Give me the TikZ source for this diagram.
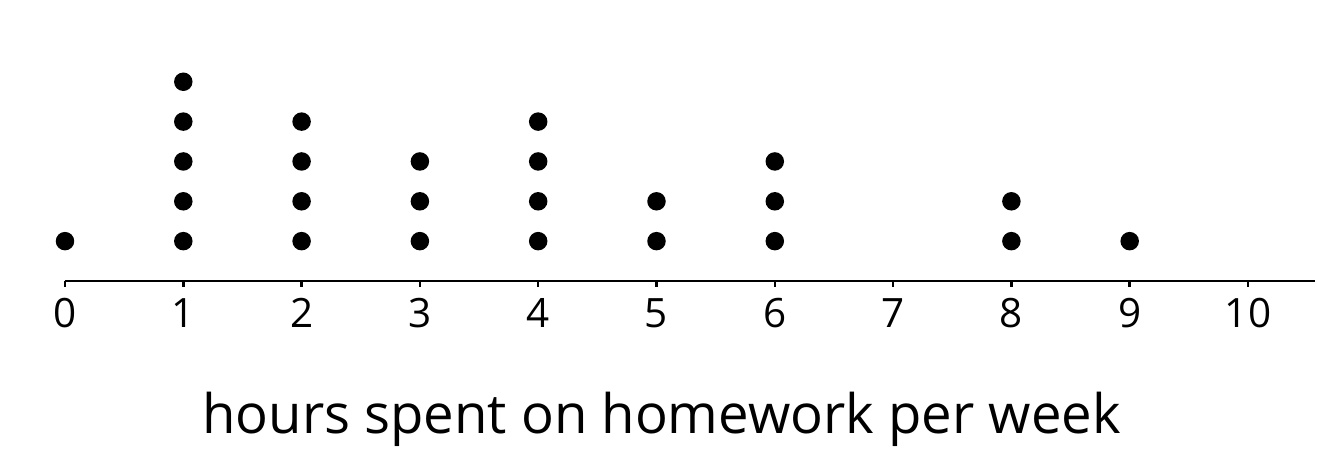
\documentclass[tikz,border=0pt]{standalone}
\usepackage{fontspec}
\setmainfont{Open Sans}
\begin{document}
\begin{tikzpicture}[x=2.366cm,y=0.797cm]
	\tikzset{dot/.style={fill,circle,inner sep=0pt,minimum size=0.37cm}}
	\tikzset{tick label/.style={anchor=base,font=\fontsize{23}{28}\selectfont}}
	\useasboundingbox (-1.3cm,-3.76cm) rectangle (25.04cm,5.62cm);
	\coordinate (start)	at (0,0);
	\coordinate (end)	at (10.566,0);
	\draw [line width=0.06cm] (start) -- (end);
	\foreach \v in {0,...,10}{
		\coordinate (t\v)	at (\v,0);
		\draw [line width=0.05cm] (t\v) -- ++(0,-0.11cm);
		\node [tick label] (l\v)	at ([yshift=-0.92cm]t\v)	{\v};
	}
	\foreach \v/\n in {0/1,1/5,2/4,3/3,4/4,5/2,6/3,8/2,9/1}
		\foreach \k in {1,...,\n}
			\node [dot] (d\v-\k)	at (\v,\k)	{};
	\node [anchor=base,font=\fontsize{31}{37}\selectfont] (title)	at ([xshift=0.1cm,yshift=-3.04cm]t5)	{hours spent on homework per week};
\end{tikzpicture}
\end{document}
